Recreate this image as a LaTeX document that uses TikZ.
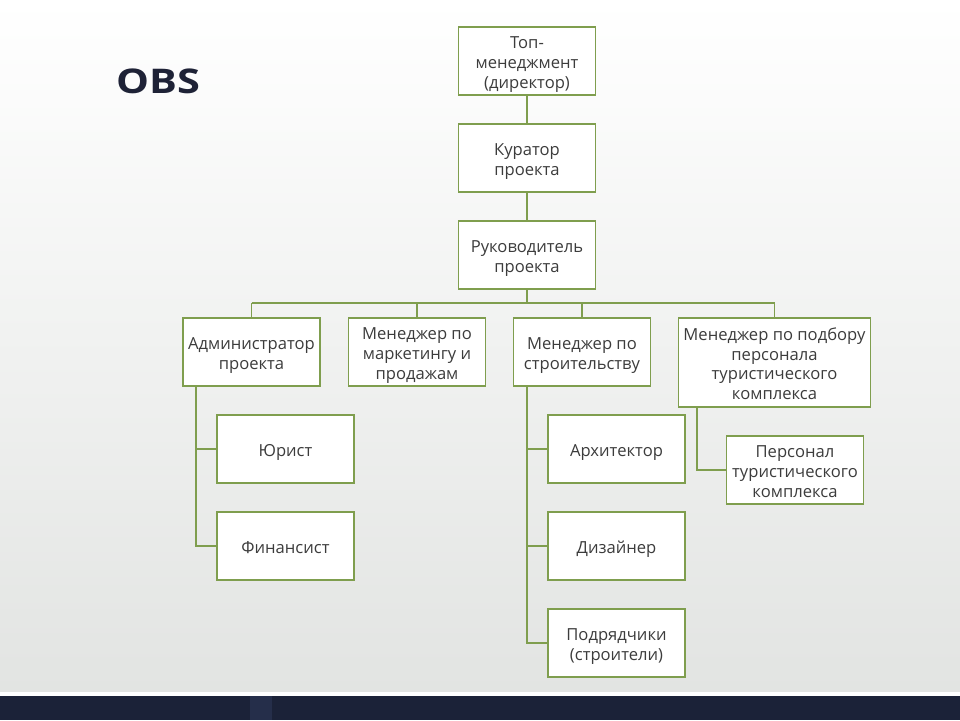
\documentclass[tikz,border=0pt]{standalone}
\usepackage{fontspec}
\setmainfont{Open Sans}
\definecolor{boxgreen}{HTML}{7F9E4E}
\definecolor{textgray}{HTML}{3C3C3C}
\definecolor{titlecol}{HTML}{1E2236}
\definecolor{bgbot}{HTML}{E2E4E2}
\definecolor{navy}{HTML}{1B2238}
\definecolor{navylight}{HTML}{252E4A}
\newcommand\fst{\rule{0pt}{15pt}}
\begin{document}
\begin{tikzpicture}[x=1pt,y=-1pt,
  box/.style={draw=boxgreen, line width=1.8pt, fill=white, minimum width=137pt, minimum height=68pt,
    inner sep=2pt, align=center, text=textgray, font=\fontsize{16.6}{19.8}\selectfont,
    text depth=0pt},
  link/.style={draw=boxgreen, line width=1.8pt}]
\useasboundingbox (0,0) rectangle (960,720);
% background
\shade[top color=white, bottom color=bgbot] (0,0) rectangle (960,692);
\fill[white] (0,692) rectangle (960,696);
\fill[navy] (0,696) rectangle (960,720);
\fill[navylight] (250,696) rectangle (272,720);
% title
\node[font=\bfseries\fontsize{34}{34}\selectfont, text=titlecol, anchor=west, inner sep=0] (title) at (116,81) {\scalebox{1.22}[1]{OBS}};
% nodes
\node[box] (top) at (527,61) {\fst Топ-\\менеджмент\\(директор)};
\node[box] (kur) at (527,158) {\fst Куратор\\проекта};
\node[box] (ruk) at (527,255) {\fst Руководитель\\проекта};
\node[box] (adm) at (251.5,352) {\fst Администратор\\проекта};
\node[box] (mkt) at (417,352) {\fst Менеджер по\\маркетингу и\\продажам};
\node[box] (str) at (582,352) {\fst Менеджер по\\строительству};
\node[box, minimum width=192pt, minimum height=89pt] (pod) at (774.5,362.5) {\fst Менеджер по подбору\\персонала\\туристического\\комплекса};
\node[box] (yur) at (285.5,449) {\fst Юрист};
\node[box] (fin) at (285.5,546) {\fst Финансист};
\node[box] (arh) at (616.5,449) {\fst Архитектор};
\node[box] (diz) at (616.5,546) {\fst Дизайнер};
\node[box] (pdr) at (616.5,643) {\fst Подрядчики\\(строители)};
\node[box] (per) at (795,470) {\fst Персонал\\туристического\\комплекса};
% connectors
\draw[link] (top) -- (kur);
\draw[link] (kur) -- (ruk);
\coordinate (busL) at (251.5,303);
\coordinate (busR) at (774.5,303);
\draw[link] (ruk.south) -- (ruk.south |- busL);
\draw[link] (busL) -- (busR);
\draw[link] (adm.north) -- (adm.north |- busL);
\draw[link] (mkt.north) -- (mkt.north |- busL);
\draw[link] (str.north) -- (str.north |- busL);
\draw[link] (pod.north) -- (pod.north |- busL);
\draw[link] ([xshift=14pt]adm.south west) |- (yur.west);
\draw[link] ([xshift=14pt]adm.south west) |- (fin.west);
\draw[link] ([xshift=14pt]str.south west) |- (arh.west);
\draw[link] ([xshift=14pt]str.south west) |- (diz.west);
\draw[link] ([xshift=14pt]str.south west) |- (pdr.west);
\draw[link] ([xshift=19pt]pod.south west) |- (per.west);
\end{tikzpicture}
\end{document}
